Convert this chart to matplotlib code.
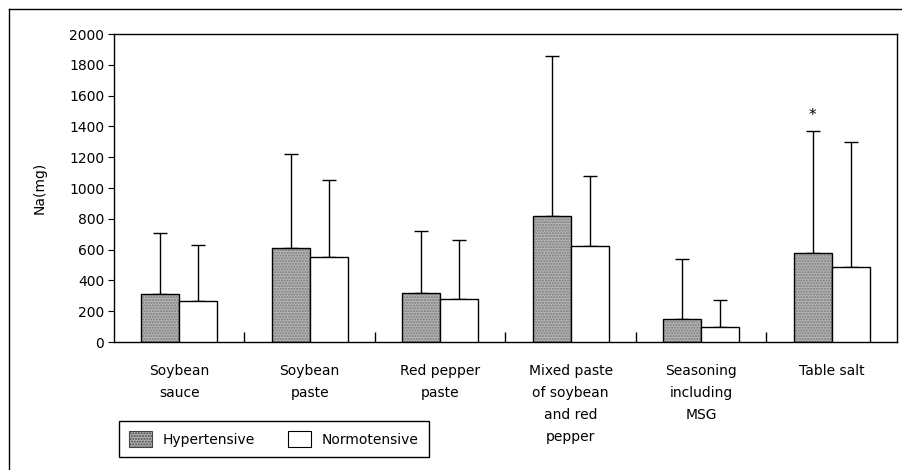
import matplotlib.pyplot as plt
import numpy as np
from matplotlib.patches import Rectangle
from matplotlib.lines import Line2D

#Data
categories = ["Soybean\nsauce", "Soybean\npaste", "Red pepper\npaste",
              "Mixed paste\nof soybean\nand red\npepper",
              "Seasoning\nincluding\nMSG", "Table salt"]
hyper_mean = [312, 612, 318, 820, 150, 578]
hyper_top = [705, 1220, 720, 1860, 540, 1370]
normo_mean = [266, 555, 278, 623, 95, 487]
normo_top = [630, 1055, 660, 1080, 275, 1298]
star_groups = [5]

plt.rcParams['font.family'] = ['DejaVu Sans']

fig = plt.figure(figsize=(9.02, 4.70), dpi=100)
ax = fig.add_axes([114/902, 128/470, 783/902, 308/470])

x = np.arange(len(categories))
w = 0.29
hx = x - w/2
nx = x + w/2

# stippled hypertensive bars: hatch layer then black outline
ax.bar(hx, hyper_mean, w, color='#b4b4b4', edgecolor='#7a7a7a',
       hatch='......', linewidth=0, zorder=2)
ax.bar(hx, hyper_mean, w, fill=False, edgecolor='black', linewidth=1.0, zorder=3)
ax.bar(nx, normo_mean, w, color='white', edgecolor='black', linewidth=1.0, zorder=3)

# upper error bars only
hy_err = np.array(hyper_top) - np.array(hyper_mean)
no_err = np.array(normo_top) - np.array(normo_mean)
ax.errorbar(hx, hyper_mean, yerr=[np.zeros(len(x)), hy_err], fmt='none',
            ecolor='black', elinewidth=1.0, capsize=5, capthick=1.0, zorder=1)
ax.errorbar(nx, normo_mean, yerr=[np.zeros(len(x)), no_err], fmt='none',
            ecolor='black', elinewidth=1.0, capsize=5, capthick=1.0, zorder=1)

for g in star_groups:
    ax.text(hx[g], hyper_top[g] + 50, '*', ha='center', va='bottom', fontsize=11)

ax.set_xlim(-0.5, len(x) - 0.5)
ax.set_ylim(0, 2000)
ax.set_yticks(np.arange(0, 2001, 200))
ax.tick_params(axis='y', direction='out', length=4, labelsize=10, pad=3)

# x ticks between groups, pointing inward
ax.set_xticks(np.arange(0.5, len(x) - 1, 1.0))
ax.set_xticklabels([])
ax.tick_params(axis='x', direction='in', length=7, width=1)
for i, c in enumerate(categories):
    ax.text(x[i], -140, c, ha='center', va='top', fontsize=10,
            linespacing=1.75, transform=ax.transData)

ax.set_ylabel('Na(mg)', fontsize=10, labelpad=16)

for s in ax.spines.values():
    s.set_linewidth(1.0)

# legend
hp = Rectangle((0, 0), 1, 1, facecolor='#b4b4b4', edgecolor='#444444',
               hatch='......', linewidth=0.8)
npch = Rectangle((0, 0), 1, 1, facecolor='white', edgecolor='black', linewidth=0.8)
leg = fig.legend([hp, npch], ['Hypertensive', 'Normotensive'], ncol=2,
                 loc='center left', bbox_to_anchor=(119/902, 31/470),
                 fancybox=False, edgecolor='black', fontsize=10,
                 handlelength=1.6, handleheight=1.4, handletextpad=0.8,
                 columnspacing=2.4, borderpad=0.75, borderaxespad=0,
                 framealpha=1)
leg.get_frame().set_linewidth(1.0)

# outer frame lines (left and top only)
fig.add_artist(Line2D([9/902, 9/902], [0, 1 - 9/470], color='black', lw=1.0))
fig.add_artist(Line2D([9/902, 1], [1 - 9/470, 1 - 9/470], color='black', lw=1.0))

fig.savefig('out.png', dpi=100)
